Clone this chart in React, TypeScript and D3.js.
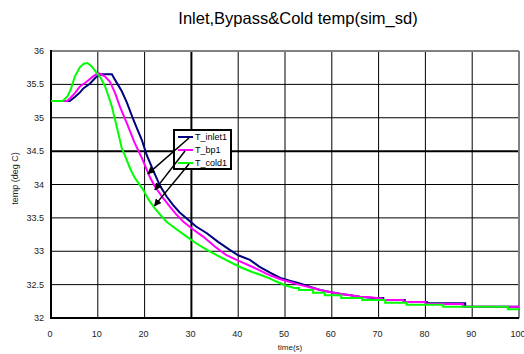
import React from "react";
import * as d3 from "d3";

// readings: [time(s), temp (deg C)]
const inlet1: [number, number][] = [
  [0, 35.25], [4, 35.25], [5.1, 35.31], [6.2, 35.38], [6.9, 35.44], [8.3, 35.51],
  [9.8, 35.62], [10.8, 35.65], [13, 35.65], [14, 35.53], [15.1, 35.4], [16.2, 35.23],
  [17.6, 34.97], [18.5, 34.82], [19.4, 34.67], [20.4, 34.45], [21.9, 34.2], [23.3, 33.98],
  [24.7, 33.82], [26.1, 33.69], [27.5, 33.58], [29, 33.49], [31, 33.37], [33.3, 33.27],
  [35.7, 33.14], [38.2, 33.02], [40, 32.94], [42.5, 32.87], [44.5, 32.77], [46.8, 32.68],
  [49, 32.6], [51, 32.56], [53, 32.52], [55.3, 32.47], [57.5, 32.42], [59.6, 32.39],
  [62, 32.36], [64, 32.34], [66, 32.32], [68.9, 32.3], [71, 32.3], [71, 32.27],
  [75.6, 32.27], [75.6, 32.24], [80.3, 32.24], [80.3, 32.22], [88.5, 32.22], [88.5, 32.17],
  [100, 32.17],
];

const bp1: [number, number][] = [
  [0, 35.25], [3.4, 35.25], [4.2, 35.3], [5.1, 35.37], [6.2, 35.47], [7.6, 35.54],
  [9, 35.62], [10.1, 35.67], [11.5, 35.62], [12.6, 35.54], [13.7, 35.37], [14.7, 35.17],
  [16.2, 34.92], [17.9, 34.62], [19.4, 34.4], [20.3, 34.25], [21.2, 34.1], [22.2, 33.97],
  [23.8, 33.81], [25.4, 33.67], [26.8, 33.55], [28.3, 33.44], [30.3, 33.33], [32.5, 33.22],
  [35, 33.07], [37.5, 32.94], [40, 32.86], [43.2, 32.76], [46.8, 32.64], [49, 32.58],
  [51.1, 32.54], [53, 32.5], [55.3, 32.46], [57.5, 32.42], [59.6, 32.39], [62, 32.36],
  [64, 32.34], [66, 32.32], [68.2, 32.31], [70.7, 32.29], [70.7, 32.27], [75.3, 32.27],
  [75.3, 32.24], [80, 32.24], [80, 32.21], [88, 32.21], [88, 32.17], [100, 32.17],
];

const cold1: [number, number][] = [
  [0, 35.25], [2.5, 35.25], [3.5, 35.32], [4.2, 35.42], [5.1, 35.62], [6.2, 35.76],
  [7, 35.81], [7.8, 35.82], [8.7, 35.77], [9.8, 35.67], [10.6, 35.6], [11.5, 35.48], [12.3, 35.32],
  [13, 35.17], [14, 34.88], [15.1, 34.55], [16, 34.4], [16.9, 34.24], [17.9, 34.1],
  [19.7, 33.92], [20.8, 33.78], [21.9, 33.67], [23.3, 33.55], [24.7, 33.44], [26.8, 33.33],
  [29, 33.22], [31, 33.12], [33.3, 33.02], [35.7, 32.93], [38.2, 32.84], [40.5, 32.76],
  [43, 32.69], [45, 32.64], [46.8, 32.59], [48, 32.55], [50, 32.49], [52, 32.45],
  [53, 32.45], [53, 32.42], [56, 32.42], [56, 32.38], [58.5, 32.38], [58.5, 32.34],
  [62, 32.34], [62, 32.3], [66.5, 32.3], [66.5, 32.27], [71.4, 32.27], [71.4, 32.23],
  [76, 32.23], [76, 32.2], [83.8, 32.2], [83.8, 32.17], [97.6, 32.17], [97.6, 32.13],
  [100, 32.13],
];

const xTicks = [0, 10, 20, 30, 40, 50, 60, 70, 80, 90, 100];
const yTicks = [32, 32.5, 33, 33.5, 34, 34.5, 35, 35.5, 36];

const seriesNames = ["T_inlet1", "T_bp1", "T_cold1"];
const seriesColors = ["#000080", "#ff00ff", "#00ff00"];

// where each legend arrow points to (data coords)
const arrowTargets: [number, number][] = [
  [20.7, 34.16],
  [22.2, 33.92],
  [22.1, 33.68],
];

export default function App() {
  const width = 524;
  const height = 354;
  const margin = { top: 51, right: 5, bottom: 36, left: 51 };
  const font = "Arial, 'Liberation Sans', sans-serif";

  const x = d3.scaleLinear().domain([0, 100]).range([margin.left, width - margin.right]);
  const y = d3.scaleLinear().domain([32, 36]).range([height - margin.bottom, margin.top]);

  const line = d3
    .line<[number, number]>()
    .x((d) => x(d[0]))
    .y((d) => y(d[1]))
    .curve(d3.curveLinear);

  const data = [inlet1, bp1, cold1];

  // legend box
  const lg = { x: 174, y: 130, w: 57, h: 39 };

  return (
    <svg
      width={width}
      height={height}
      style={{ position: "absolute", left: 0, top: 0, background: "#fff" }}
    >
      <defs>
        <marker id="arr" viewBox="0 0 10 10" refX="9" refY="5" markerWidth="5" markerHeight="5" orient="auto">
          <path d="M0,0 L10,5 L0,10 z" fill="#000" />
        </marker>
        <clipPath id="plot">
          <rect x={x(0)} y={y(36)} width={x(100) - x(0)} height={y(32) - y(36)} />
        </clipPath>
      </defs>

      <text x={298} y={24} textAnchor="middle" fontFamily={font} fontSize={16.5} fill="#000">
        Inlet,Bypass&amp;Cold temp(sim_sd)
      </text>

      {/* grid */}
      {xTicks.slice(1, -1).map((t) => (
        <line key={"gx" + t} x1={x(t)} x2={x(t)} y1={y(36)} y2={y(32)} stroke="#000" strokeWidth={t === 30 ? 2 : 1} />
      ))}
      {yTicks.slice(1, -1).map((t) => (
        <line key={"gy" + t} x1={x(0)} x2={x(100)} y1={y(t)} y2={y(t)} stroke="#000" strokeWidth={t === 34.5 ? 2 : 1} />
      ))}

      {/* frame */}
      <line x1={x(0)} x2={x(100)} y1={y(36)} y2={y(36)} stroke="#808080" strokeWidth={2} />
      <line x1={x(100)} x2={x(100)} y1={y(36)} y2={y(32)} stroke="#808080" strokeWidth={2} />
      <line x1={x(0)} x2={x(0)} y1={y(36) - 1} y2={y(32) + 1} stroke="#000" strokeWidth={2} />
      <line x1={x(0) - 1} x2={x(100)} y1={y(32)} y2={y(32)} stroke="#000" strokeWidth={2} />

      {/* series */}
      <g clipPath="url(#plot)">
        {data.map((d, i) => (
          <path key={seriesNames[i]} d={line(d) || ""} fill="none" stroke={seriesColors[i]} strokeWidth={2} />
        ))}
      </g>

      {/* tick labels */}
      {yTicks.map((t) => (
        <text key={"ty" + t} x={44} y={y(t) + 3} textAnchor="end" fontFamily={font} fontSize={9} fill="#222">
          {t}
        </text>
      ))}
      {xTicks.map((t) => (
        <text key={"tx" + t} x={x(t) - 1} y={337} textAnchor="middle" fontFamily={font} fontSize={9} fill="#222">
          {t}
        </text>
      ))}

      <text x={290} y={350} textAnchor="middle" fontFamily={font} fontSize={8} fill="#222">
        time(s)
      </text>
      <text
        transform={`translate(18,${(y(32) + y(36)) / 2 - 6}) rotate(-90)`}
        textAnchor="middle"
        fontFamily={font}
        fontSize={9}
        fill="#222"
      >
        temp (deg C)
      </text>

      {/* legend */}
      <rect x={lg.x} y={lg.y} width={lg.w} height={lg.h} fill="#fff" stroke="#000" strokeWidth={2} />
      {seriesNames.map((n, i) => {
        const ly = lg.y + 7 + i * 13;
        return (
          <g key={"lg" + n}>
            <line x1={lg.x + 4} x2={lg.x + 19} y1={ly} y2={ly} stroke={seriesColors[i]} strokeWidth={2} />
            <text x={lg.x + 21} y={ly + 3} fontFamily={font} fontSize={9} fill="#000">
              {n}
            </text>
          </g>
        );
      })}

      {/* arrows */}
      {arrowTargets.map((p, i) => {
        const ly = lg.y + 7 + i * 13;
        const sx = i === 1 ? lg.x + 11 : lg.x + 15;
        return (
          <line
            key={"ar" + i}
            x1={sx}
            y1={ly + 1}
            x2={x(p[0])}
            y2={y(p[1])}
            stroke="#000"
            strokeWidth={1.5}
            markerEnd="url(#arr)"
          />
        );
      })}
    </svg>
  );
}
